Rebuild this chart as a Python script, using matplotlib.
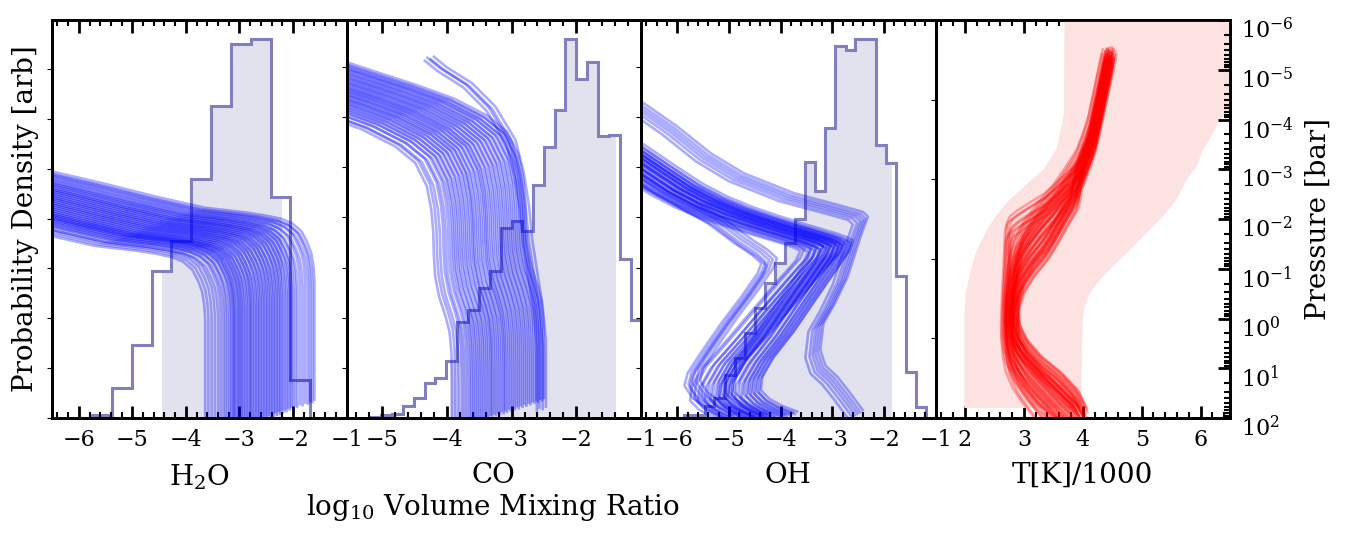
import numpy as np
import matplotlib
matplotlib.use('Agg')
import matplotlib.pyplot as plt
from matplotlib.ticker import MultipleLocator, FixedLocator, LogLocator, NullFormatter
from matplotlib.patches import Rectangle
from matplotlib.transforms import ScaledTranslation

plt.rcParams['font.family'] = 'serif'
plt.rcParams['mathtext.fontset'] = 'dejavuserif'
plt.rcParams['axes.linewidth'] = 2

# ---- histogram of retrieved abundances (arbitrary density) ----
h2o_edges = [-5.75, -5.38, -5.01, -4.64, -4.27, -3.90, -3.53, -3.16, -2.79, -2.42, -2.05, -1.68]
h2o_hist = [3, 30, 73, 147, 177, 240, 313, 375, 380, 222, 38]
h2o_band = (-4.45, -2.20)

co_edges = [-5.18, -5.01, -4.84, -4.68, -4.51, -4.34, -4.18, -4.01, -3.84, -3.67, -3.51, -3.34, -3.17,
            -3.00, -2.84, -2.67, -2.50, -2.33, -2.17, -2.00, -1.83, -1.66, -1.50, -1.33, -1.16, -0.99]
co_hist = [1, 3, 4, 12, 20, 35, 40, 57, 96, 108, 130, 147, 189, 196, 186, 232, 270, 307, 378, 338,
           355, 281, 282, 159, 98]
co_band = (-3.95, -1.39)

oh_edges = [-5.86, -5.67, -5.47, -5.28, -5.08, -4.89, -4.69, -4.50, -4.30, -4.11, -3.91, -3.72, -3.52,
            -3.33, -3.13, -2.94, -2.74, -2.55, -2.35, -2.16, -1.96, -1.77, -1.57, -1.38, -1.18]
oh_hist = [3, 3, 12, 20, 43, 60, 85, 110, 135, 155, 175, 198, 255, 226, 289, 371, 367, 378, 378, 272,
           254, 142, 46, 11]
oh_band = (-4.80, -1.85)

# ---- abundance profiles: base shape (log10 VMR, log10 P) + per-sample offsets ----
h2o_x = [-7.60, -6.60, -5.60, -4.70, -3.90, -3.55, -3.25, -3.05, -2.88, -2.77, -2.70, -2.66, -2.64, -2.64, -2.64]
h2o_p = [-2.50, -2.25, -1.98, -1.76, -1.66, -1.60, -1.53, -1.44, -1.28, -1.05, -0.85, -0.60, -0.30, 0.50, 2.10]
h2o_deep = [-3.64, -3.58, -3.52, -3.46, -3.40, -3.35, -3.30, -3.26, -3.22, -3.18,
            -3.15, -3.12, -3.10, -3.08, -3.05, -3.02, -3.00, -2.97, -2.95, -2.92,
            -2.89, -2.86, -2.83, -2.80, -2.78, -2.75, -2.72, -2.69, -2.66, -2.63,
            -2.60, -2.57, -2.54, -2.51, -2.48, -2.45, -2.42, -2.39, -2.36, -2.33,
            -2.30, -2.27, -2.24, -2.21, -2.18, -2.15, -2.12, -2.09, -2.06, -2.03,
            -2.00, -1.96, -1.92, -1.87, -1.82, -1.77, -1.72, -1.68, -1.64, -1.60]
h2o_shift = [0.30, 0.27, 0.24, 0.22, 0.23, 0.18, 0.20, 0.15, 0.18, 0.12,
             0.16, 0.10, 0.14, 0.08, 0.11, 0.06, 0.10, 0.04, 0.08, 0.02,
             0.07, 0.0, 0.05, -0.03, 0.02, -0.05, 0.0, -0.08, -0.03, -0.10,
             -0.05, -0.12, -0.07, -0.15, -0.10, -0.17, -0.12, -0.19, -0.14, -0.22,
             -0.17, -0.24, -0.19, -0.26, -0.22, -0.28, -0.24, -0.31, -0.27, -0.33,
             -0.30, -0.35, -0.33, -0.38, -0.36, -0.41, -0.39, -0.44, -0.42, -0.47]

co_x = [-7.50, -6.60, -5.90, -5.26, -4.69, -4.18, -3.87, -3.69, -3.62, -3.59, -3.58, -3.56, -3.50, -3.40,
        -3.34, -3.31, -3.30, -3.30]
co_p = [-5.30, -4.90, -4.60, -4.33, -4.06, -3.72, -3.39, -2.92, -2.45, -2.00, -1.50, -1.10, -0.70, -0.30,
        0.00, 0.40, 1.00, 1.95]
co_deep = [-3.92, -3.87, -3.82, -3.77, -3.73, -3.69, -3.65, -3.62, -3.59, -3.56,
           -3.53, -3.50, -3.47, -3.44, -3.41, -3.38, -3.35, -3.32, -3.30, -3.27,
           -3.24, -3.21, -3.18, -3.15, -3.12, -3.10, -3.07, -3.04, -3.01, -2.98,
           -2.95, -2.92, -2.89, -2.86, -2.83, -2.80, -2.77, -2.74, -2.71, -2.68,
           -2.65, -2.62, -2.59, -2.56, -2.53, -2.50]
co_shift = [0.26, 0.22, 0.24, 0.18, 0.21, 0.15, 0.18, 0.12, 0.15, 0.09,
            0.12, 0.06, 0.09, 0.03, 0.07, 0.01, 0.04, -0.02, 0.02, -0.04,
            -0.01, -0.07, -0.03, -0.09, -0.05, -0.11, -0.08, -0.14, -0.10, -0.16,
            -0.13, -0.19, -0.15, -0.21, -0.18, -0.24, -0.20, -0.26, -0.23, -0.29,
            -0.26, -0.31, -0.28, -0.34, -0.31, -0.36]
co_outer_x = [-4.20, -4.00, -3.61, -3.25, -2.94, -2.81, -2.73, -2.68, -2.60, -2.52, -2.47, -2.47]
co_outer_p = [-5.26, -5.05, -4.73, -4.26, -3.59, -2.92, -2.25, -1.58, -0.91, -0.24, 0.43, 1.77]
co_outer_dx = [0.0, -0.05, -0.10, -0.14]
co_outer_dy = [0.0, 0.05, 0.02, 0.08]

oh_core_a_x = [-7.20, -6.70, -6.20, -5.73, -5.25, -4.76, -4.25, -3.79, -3.40, -3.14, -2.95, -2.82, -2.90,
               -3.25, -3.75, -4.25, -4.70, -4.92, -4.95, -4.78, -4.55, -4.25]
oh_core_b_x = [-7.20, -6.70, -6.20, -5.73, -5.25, -4.76, -4.25, -3.79, -3.40, -3.14, -2.95, -2.82, -2.88,
               -3.15, -3.55, -3.95, -4.35, -4.57, -4.60, -4.43, -4.20, -3.90]
oh_core_p = [-3.60, -3.25, -2.90, -2.58, -2.32, -2.11, -1.93, -1.78, -1.66, -1.58, -1.51, -1.44, -1.25,
             -0.84, -0.24, 0.37, 0.90, 1.30, 1.57, 1.75, 1.88, 2.00]
oh_core_a_dx = [-0.80, -0.72, -0.65, -0.58, -0.52, -0.46, -0.41, -0.36, -0.31, -0.27, -0.23, -0.19, -0.15,
                -0.11, -0.07, -0.03, 0.01, 0.05]
oh_core_a_dy = [0.08, 0.04, 0.10, 0.02, 0.07, 0.0, 0.05, -0.02, 0.03, -0.04, 0.01, -0.05, 0.0, -0.07,
                -0.02, -0.08, -0.04, -0.10]
oh_core_b_dx = [-0.60, -0.50, -0.42, -0.35, -0.28, -0.22, -0.16, -0.11, -0.06, -0.02, 0.02, 0.06, 0.10,
                0.14, 0.18, 0.22]
oh_core_b_dy = [0.06, 0.02, 0.05, -0.01, 0.03, -0.03, 0.01, -0.05, -0.01, -0.07, -0.03, -0.09, -0.05,
                -0.11, -0.08, -0.13]
oh_nose_x = [-7.20, -6.70, -6.00, -5.40, -4.90, -4.55, -4.37, -4.45, -4.75, -5.15, -5.55, -5.80, -5.86,
             -5.70, -5.40, -5.08]
oh_nose_p = [-3.00, -2.65, -2.25, -1.91, -1.52, -1.28, -1.11, -0.90, -0.45, 0.10, 0.70, 1.10, 1.35, 1.60,
             1.82, 2.00]
oh_nose_dx = [0.0, 0.08, 0.15, 0.22, 0.10, 0.30]
oh_nose_dy = [0.0, -0.03, -0.06, -0.08, 0.04, -0.10]
oh_outer_x = [-7.20, -6.70, -6.05, -5.40, -4.76, -3.79, -2.82, -2.45, -2.36, -2.50, -2.75, -3.00, -3.22,
              -3.28, -3.18, -2.95, -2.70, -2.46]
oh_outer_p = [-4.60, -4.33, -3.86, -3.32, -2.92, -2.52, -2.25, -2.14, -2.05, -1.65, -0.84, -0.30, 0.10,
              0.63, 0.95, 1.17, 1.50, 1.84]
oh_outer_dx = [0.05, 0.0, -0.05, -0.10, -0.16, -0.24]
oh_outer_dy = [0.0, 0.04, 0.07, 0.10, 0.13, 0.16]

# ---- temperature profiles (T/1000, log10 P) ----
t_early_T = [4.40, 4.36, 4.25, 4.13, 4.00, 3.86, 3.60, 3.36, 3.10, 2.90, 2.76, 2.71, 2.69, 2.66, 2.64,
             2.66, 2.71, 2.83, 3.02, 3.25, 3.53, 3.62]
t_early_p = [-5.42, -5.06, -4.39, -3.72, -3.30, -3.05, -2.78, -2.52, -2.33, -2.18, -2.05, -1.90, -1.31,
             -0.64, 0.03, 0.37, 0.70, 1.04, 1.37, 1.71, 1.97, 2.05]
t_mid_T = [4.45, 4.40, 4.28, 4.16, 4.07, 3.96, 3.80, 3.55, 3.30, 3.08, 2.92, 2.84, 2.79, 2.76, 2.74, 2.76,
           2.84, 3.02, 3.28, 3.55, 3.78, 3.85]
t_mid_p = [-5.42, -5.06, -4.39, -3.72, -3.39, -3.05, -2.75, -2.32, -1.98, -1.64, -1.31, -0.98, -0.64,
           -0.31, 0.03, 0.37, 0.70, 1.04, 1.37, 1.71, 1.97, 2.05]
t_late_T = [4.50, 4.45, 4.32, 4.20, 4.12, 4.00, 3.92, 3.86, 3.69, 3.53, 3.36, 3.13, 2.95, 2.86, 2.83, 2.86,
            3.00, 3.25, 3.59, 3.86, 3.97, 4.00]
t_late_p = [-5.40, -5.06, -4.39, -3.72, -3.39, -3.05, -2.70, -2.32, -1.98, -1.64, -1.31, -0.98, -0.64,
            -0.31, 0.03, 0.37, 0.70, 1.04, 1.37, 1.71, 1.97, 2.05]
t_early_dT = [0.0, 0.04, -0.03, 0.06, 0.02, 0.08, -0.02, 0.05]
t_early_dp = [0.0, 0.06, 0.12, 0.18, 0.24, 0.30, 0.36, 0.42]
t_mid_dT = [-0.06, 0.05, -0.02, 0.07, -0.08, 0.02, 0.06, -0.04, 0.03, -0.01, 0.08, -0.06, 0.01, 0.04, -0.03,
            0.06, -0.07, 0.0, 0.05, -0.05, 0.03, -0.02, 0.07, -0.04, 0.02, -0.08, 0.04, -0.01, 0.06, -0.03]
t_mid_dp = [-0.35, -0.33, -0.30, -0.28, -0.25, -0.23, -0.20, -0.18, -0.15, -0.13, -0.10, -0.08, -0.05,
            -0.03, 0.0, 0.02, 0.05, 0.07, 0.10, 0.12, 0.15, 0.17, 0.20, 0.22, 0.25, 0.27, 0.30, 0.32, 0.35, 0.38]
t_late_dT = [0.0, 0.05, -0.04, 0.07, -0.06, 0.03, 0.08, -0.02, 0.04, -0.07, 0.01, 0.06, -0.05, 0.02, -0.08,
             0.05, -0.01, 0.07, -0.03, 0.03]
t_late_dp = [-0.30, -0.28, -0.25, -0.23, -0.21, -0.19, -0.16, -0.14, -0.12, -0.10, -0.08, -0.06, -0.04,
             -0.02, 0.0, 0.03, 0.06, 0.09, 0.12, 0.15]

# envelope of the temperature posterior
env_left_T = [3.69, 3.68, 3.64, 3.55, 3.34, 3.00, 2.70, 2.52, 2.37, 2.18, 2.10, 2.01, 1.99, 1.99]
env_left_p = [-6.00, -4.10, -3.86, -3.40, -3.00, -2.65, -2.32, -2.05, -1.78, -1.31, -0.98, -0.50, -0.10, 1.80]
env_right_T = [3.97, 4.00, 4.03, 4.12, 4.29, 4.51, 4.80, 5.08, 5.36, 5.59, 5.76, 5.93, 6.04, 6.21, 6.32,
               6.60, 7.00]
env_right_p = [1.80, -0.04, -0.24, -0.51, -0.78, -1.05, -1.38, -1.72, -2.05, -2.39, -2.79, -3.05, -3.39,
               -3.72, -3.99, -4.30, -6.00]

pressure_ticks = [1e-6, 1e-5, 1e-4, 1e-3, 1e-2, 1e-1, 1e0, 1e1, 1e2]
xlims = [(-6.5, -1.0), (-5.55, -1.0), (-6.7, -1.0), (1.5, 6.5)]
xlabels = ['H$_2$O', 'CO', 'OH', 'T[K]/1000']

hist_edge = '#8080bf'
hist_fill = '#e2e2ee'


def draw_hist(ax, edges, heights, band):
    lo, hi = band
    fill = ax.stairs(heights, edges, fill=True, color=hist_fill, lw=0)
    fill.set_clip_path(Rectangle((lo, 0), hi - lo, 1e6, transform=ax.transData))
    ax.stairs(heights, edges, color=hist_edge, lw=2.2)
    ax.set_ylim(0, max(heights) * 1.05)


def draw_family(ax, base_x, base_p, dxs, dys, color, alpha=0.33, ptop=-9.0):
    bx = np.asarray(base_x)
    bp = np.asarray(base_p)
    for dx, dy in zip(dxs, dys):
        keep = (bp + dy) >= ptop  # model grid has no levels above this pressure
        ax.plot(bx[keep] + dx, 10.0 ** (bp[keep] + dy), color=color, alpha=alpha, lw=1.9)


fig, axes = plt.subplots(1, 4, figsize=(13.48, 5.44), dpi=100)
fig.subplots_adjust(left=0.0386, right=0.9125, bottom=0.2316, top=0.9632, wspace=0)

twins = []
for i, ax in enumerate(axes):
    ax.set_xlim(xlims[i])
    ax.xaxis.set_major_locator(MultipleLocator(1))
    ax.xaxis.set_minor_locator(MultipleLocator(0.2))
    ax.tick_params(axis='x', which='major', direction='in', top=True, length=9, width=2,
                   labelsize=16, pad=8)
    ax.tick_params(axis='x', which='minor', direction='in', top=True, length=4.5, width=1.5)
    ax.tick_params(axis='y', which='both', left=False, labelleft=False)
    ax.set_xlabel(xlabels[i], fontsize=20, labelpad=8)

    ax2 = ax.twinx()
    ax2.set_yscale('log')
    ax2.set_ylim(1e2, 1e-6)
    ax2.set_xlim(xlims[i])
    for sp in ax2.spines.values():
        sp.set_linewidth(2)
    twins.append(ax2)
    if i < 3:
        ax2.tick_params(axis='y', which='both', right=False, labelright=False)

draw_hist(axes[0], h2o_edges, h2o_hist, h2o_band)
draw_hist(axes[1], co_edges, co_hist, co_band)
draw_hist(axes[2], oh_edges, oh_hist, oh_band)

draw_family(twins[0], h2o_x, h2o_p, np.array(h2o_deep) - h2o_x[-1], h2o_shift, 'blue')
draw_family(twins[1], co_x, co_p, np.array(co_deep) - co_x[-1], co_shift, 'blue')
draw_family(twins[1], co_outer_x, co_outer_p, co_outer_dx, co_outer_dy, 'blue')
draw_family(twins[2], oh_core_a_x, oh_core_p, oh_core_a_dx, oh_core_a_dy, 'blue')
draw_family(twins[2], oh_core_b_x, oh_core_p, oh_core_b_dx, oh_core_b_dy, 'blue')
draw_family(twins[2], oh_nose_x, oh_nose_p, oh_nose_dx, oh_nose_dy, 'blue')
draw_family(twins[2], oh_outer_x, oh_outer_p, oh_outer_dx, oh_outer_dy, 'blue')

axT = twins[3]
axT.fill(np.concatenate([env_left_T, env_right_T]),
         10.0 ** np.concatenate([env_left_p, env_right_p]),
         color='#fde2e2', lw=0, zorder=0)
draw_family(axT, t_early_T, t_early_p, t_early_dT, t_early_dp, 'red', alpha=0.3, ptop=-5.45)
draw_family(axT, t_mid_T, t_mid_p, t_mid_dT, t_mid_dp, 'red', alpha=0.3, ptop=-5.45)
draw_family(axT, t_late_T, t_late_p, t_late_dT, t_late_dp, 'red', alpha=0.3, ptop=-5.45)

axT.yaxis.set_major_locator(FixedLocator(pressure_ticks))
axT.yaxis.set_minor_locator(LogLocator(base=10, subs=np.arange(2, 10), numticks=20))
axT.yaxis.set_minor_formatter(NullFormatter())
axT.set_ylim(1e2, 1e-6)
axT.tick_params(axis='y', which='major', direction='in', length=9, width=2, labelsize=16, pad=8)
axT.tick_params(axis='y', which='minor', direction='in', length=4.5, width=1.5)
axT.set_ylabel('Pressure [bar]', fontsize=20, labelpad=8)
# the "10" of each label sits on its tick, so nudge the labels down a little
nudge = ScaledTranslation(0, -6 / 72, fig.dpi_scale_trans)
for lab in axT.get_yticklabels():
    lab.set_transform(lab.get_transform() + nudge)

axes[0].set_ylabel('Probability Density [arb]', fontsize=20, labelpad=6)
fig.text(0.366, 0.068, 'log$_{10}$ Volume Mixing Ratio', ha='center', va='center', fontsize=20)

fig.savefig('out.png', dpi=100)
